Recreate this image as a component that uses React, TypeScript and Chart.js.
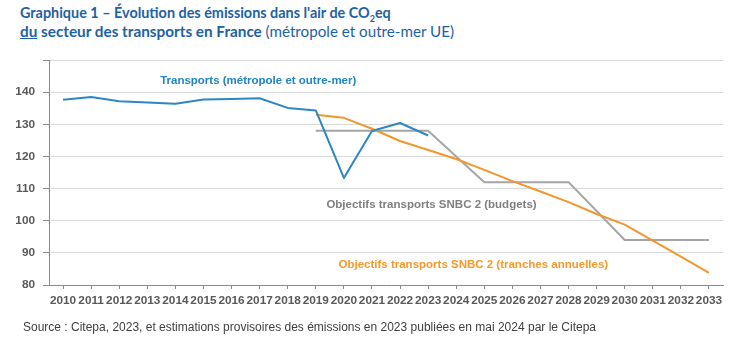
import React, { useEffect, useRef } from 'react';
import { Chart, registerables } from 'chart.js';

Chart.register(...registerables);

const years = ['2010', '2011', '2012', '2013', '2014', '2015', '2016', '2017', '2018', '2019', '2020', '2021',
  '2022', '2023', '2024', '2025', '2026', '2027', '2028', '2029', '2030', '2031', '2032', '2033'];

const transports = [137.6, 138.5, 137.2, 136.8, 136.4, 137.7, 137.9, 138.1, 135.1, 134.3, 113.3, 127.9,
  130.4, 126.5, null, null, null, null, null, null, null, null, null, null];

const snbcAnnual = [null, null, null, null, null, null, null, null, null, 133.0, 132.0, 128.6,
  124.8, 122.0, 119.2, 115.8, 112.3, 109.1, 105.8, 102.1, 98.8, 93.8, 88.8, 83.8];

const snbcBudgets = [null, null, null, null, null, null, null, null, null, 128, 128, 128,
  128, 128, 120, 112, 112, 112, 112, 103, 94, 94, 94, 94];

const yTickValues = [80, 90, 100, 110, 120, 130, 140, 150];
const yTickLabels = ['80', '90', '100', '110', '120', '130', '140', ''];

const seriesNames = ['Transports (métropole et outre-mer)', 'Objectifs transports SNBC 2 (tranches annuelles)', 'Objectifs transports SNBC 2 (budgets)'];
const seriesColors = ['#2C87C4', '#F2962E', '#A5A5A5'];

const noteTexts = ['Transports (métropole et outre-mer)', 'Objectifs transports SNBC 2 (budgets)', 'Objectifs transports SNBC 2 (tranches annuelles)'];
const noteX = [6.95, 13.12, 14.61];
const noteY = [143.4, 104.85, 86.2];
const noteColors = ['#2185C5', '#7F7F7F', '#F39A2B'];

const notesPlugin = {
  id: 'notes',
  afterDatasetsDraw(chart: any) {
    const { ctx, scales } = chart;
    ctx.save();
    ctx.font = 'bold 11.5px "Liberation Sans", Arial, sans-serif';
    ctx.textAlign = 'center';
    ctx.textBaseline = 'middle';
    noteTexts.forEach((t, i) => {
      ctx.fillStyle = noteColors[i];
      ctx.fillText(t, scales.x.getPixelForValue(noteX[i]), scales.y.getPixelForValue(noteY[i]));
    });
    ctx.restore();
  },
};

export default function App() {
  const ref = useRef<HTMLCanvasElement | null>(null);

  useEffect(() => {
    if (!ref.current) return;
    const datasets = [transports, snbcAnnual, snbcBudgets].map((d, i) => ({
      label: seriesNames[i],
      data: d,
      borderColor: seriesColors[i],
      backgroundColor: seriesColors[i],
      borderWidth: 2,
      pointRadius: 0,
      tension: 0,
      spanGaps: false,
      borderJoinStyle: 'round' as const,
    }));
    const chart = new Chart(ref.current, {
      type: 'line',
      data: { labels: years, datasets },
      plugins: [notesPlugin],
      options: {
        animation: false,
        responsive: false,
        devicePixelRatio: 1,
        layout: { padding: { left: 0, right: 10, top: 60, bottom: 33 } },
        plugins: { legend: { display: false }, tooltip: { enabled: false } },
        scales: {
          x: {
            offset: true,
            afterFit: (s: any) => { s.height = 30; },
            grid: { drawOnChartArea: false, drawTicks: true, tickLength: 4, tickColor: '#8A8A8A' },
            border: { display: true, color: '#8A8A8A', width: 1 },
            ticks: {
              autoSkip: false,
              maxRotation: 0,
              padding: 5,
              color: '#595959',
              font: { family: '"Liberation Sans", Arial, sans-serif', size: 11.8, weight: 'bold' },
            },
          },
          y: {
            min: 80,
            max: 150,
            afterFit: (s: any) => { s.width = 49; },
            afterBuildTicks: (s: any) => { s.ticks = yTickValues.map((v) => ({ value: v })); },
            grid: { color: '#D9D9D9', lineWidth: 1, drawTicks: true, tickLength: 6, tickColor: '#8A8A8A' },
            border: { display: true, color: '#8A8A8A', width: 1 },
            ticks: {
              padding: 8,
              color: '#595959',
              font: { family: '"Liberation Sans", Arial, sans-serif', size: 11.8, weight: 'bold' },
              callback: (v: any) => {
                const i = yTickValues.indexOf(Number(v));
                return i >= 0 ? yTickLabels[i] : '';
              },
            },
          },
        },
      },
    });
    return () => chart.destroy();
  }, []);

  return (
    <div style={{ position: 'fixed', left: 0, top: 0, width: 733, height: 348, background: '#fff', overflow: 'hidden' }}>
      <div style={{
        position: 'absolute', left: 20, top: 4, lineHeight: '18px', color: '#1C62A3',
        fontFamily: 'Lato, "Open Sans", sans-serif', fontWeight: 'bold', whiteSpace: 'nowrap',
      }}>
        <div style={{ fontSize: 14.4 }}>Graphique 1 – Évolution des émissions dans l'air de CO<sub style={{ fontSize: 9, lineHeight: 0 }}>2</sub>eq</div>
        <div style={{ fontSize: 15.3 }}><span style={{ textDecoration: 'underline' }}>du</span> secteur des transports en France <span style={{ fontWeight: 'normal', fontSize: 15.2 }}>(métropole et outre-mer UE)</span></div>
      </div>
      <canvas ref={ref} width={733} height={348} style={{ position: 'absolute', left: 0, top: 0, width: 733, height: 348 }} />
      <div style={{
        position: 'absolute', left: 23, top: 320, fontSize: 12, color: '#404040',
        fontFamily: '"Liberation Sans", Arial, sans-serif', whiteSpace: 'nowrap', lineHeight: '14px',
      }}>
        Source : Citepa, 2023, et estimations provisoires des émissions en 2023 publiées en mai 2024 par le Citepa
      </div>
    </div>
  );
}
